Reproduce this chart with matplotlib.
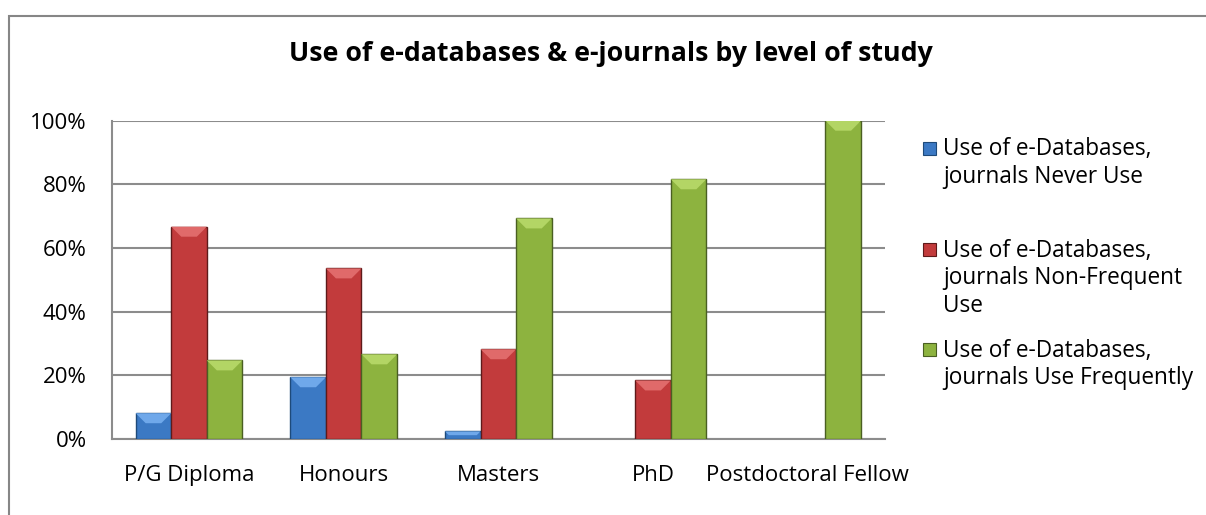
import matplotlib
matplotlib.use("Agg")
import matplotlib.pyplot as plt
import numpy as np
from matplotlib.patches import Rectangle, Polygon
from matplotlib.ticker import FuncFormatter

categories = ["P/G Diploma", "Honours", "Masters", "PhD", "Postdoctoral Fellow"]
never_use = [8.1, 19.4, 2.4, 0.0, 0.0]
non_frequent = [66.7, 53.6, 28.2, 18.4, 0.0]
frequent = [24.7, 26.6, 69.3, 81.6, 100.0]
series_labels = [
    "Use of e-Databases,\njournals Never Use",
    "Use of e-Databases,\njournals Non-Frequent\nUse",
    "Use of e-Databases,\njournals Use Frequently",
]
title = "Use of e-databases & e-journals by level of study"
yticks = [0, 20, 40, 60, 80, 100]

face_colors = ["#3B79C4", "#C23B3C", "#8DB33F"]
top_colors = ["#6FA8EA", "#E06A6A", "#B3D565"]
edge_colors = ["#1E4A7A", "#5E1A1A", "#4A5F22"]

plt.rcParams["font.family"] = ["Open Sans", "DejaVu Sans"]

fig = plt.figure(figsize=(12.06, 5.15), dpi=100)
ax = fig.add_axes([111.7 / 1206, 1 - 439 / 515, (885 - 111.7) / 1206, (439 - 120.7) / 515])

x = np.arange(len(categories))
w = 0.23
all_series = [never_use, non_frequent, frequent]
ax.set_xlim(-0.5, len(categories) - 0.5)
ax.set_ylim(0, 100)

# bevel size in data units (about 10 px)
bev = 10
px_x = (len(categories)) / (885 - 111.7)
px_y = 100 / (439 - 120.7)
for i, vals in enumerate(all_series):
    v = np.array(vals, dtype=float)
    v[v == 0] = np.nan
    bars = ax.bar(x + (i - 1) * w, v, width=w, color=face_colors[i],
                  edgecolor=edge_colors[i], linewidth=1.0, zorder=3)
    for r in bars:
        h = r.get_height()
        if not np.isfinite(h) or h <= 0:
            continue
        x0, bw = r.get_x(), r.get_width()
        dy = min(bev * px_y, h / 2)
        dx = min(bev * px_x, bw / 2) * (dy / (bev * px_y))
        poly = Polygon([(x0, h), (x0 + bw, h), (x0 + bw - dx, h - dy), (x0 + dx, h - dy)],
                       closed=True, facecolor=top_colors[i], edgecolor="none", zorder=4)
        ax.add_patch(poly)

ax.set_yticks(yticks)
ax.yaxis.set_major_formatter(FuncFormatter(lambda v, p: f"{int(v)}%"))
ax.set_xticks(x)
ax.set_xticklabels(categories)
ax.tick_params(axis="both", length=0, labelsize=16, colors="black")
ax.tick_params(axis="y", pad=18)
ax.tick_params(axis="x", pad=19)
ax.grid(axis="y", color="#8C8C8C", linewidth=1.5, zorder=0)
for s in ["top", "right"]:
    ax.spines[s].set_visible(False)
for s in ["left", "bottom"]:
    ax.spines[s].set_color("#8C8C8C")
    ax.spines[s].set_linewidth(1.5)

fig.text(611 / 1206, 1 - 54 / 515, title, ha="center", va="center",
         fontsize=19.3, fontweight="bold")

# outer chart border (cropped at right and bottom)
fig.patches.append(Rectangle((8.5 / 1206, -0.2), 1.2, 1 - 15.5 / 515 + 0.2,
                             transform=fig.transFigure, fill=False,
                             edgecolor="#868686", linewidth=1.5))

# legend, Excel style: marker aligned with first line
baselines = [156, 257, 357]
for i, lab in enumerate(series_labels):
    yb = baselines[i]
    fig.patches.append(Rectangle((923 / 1206, 1 - (yb - 1) / 515), 13 / 1206, 13 / 515,
                                 transform=fig.transFigure, facecolor=face_colors[i],
                                 edgecolor=edge_colors[i], linewidth=0.8))
    fig.text(943 / 1206, 1 - (yb - 18.5) / 515, lab, ha="left", va="top",
             fontsize=16.3, linespacing=1.2)

fig.savefig("out.png", dpi=100)
